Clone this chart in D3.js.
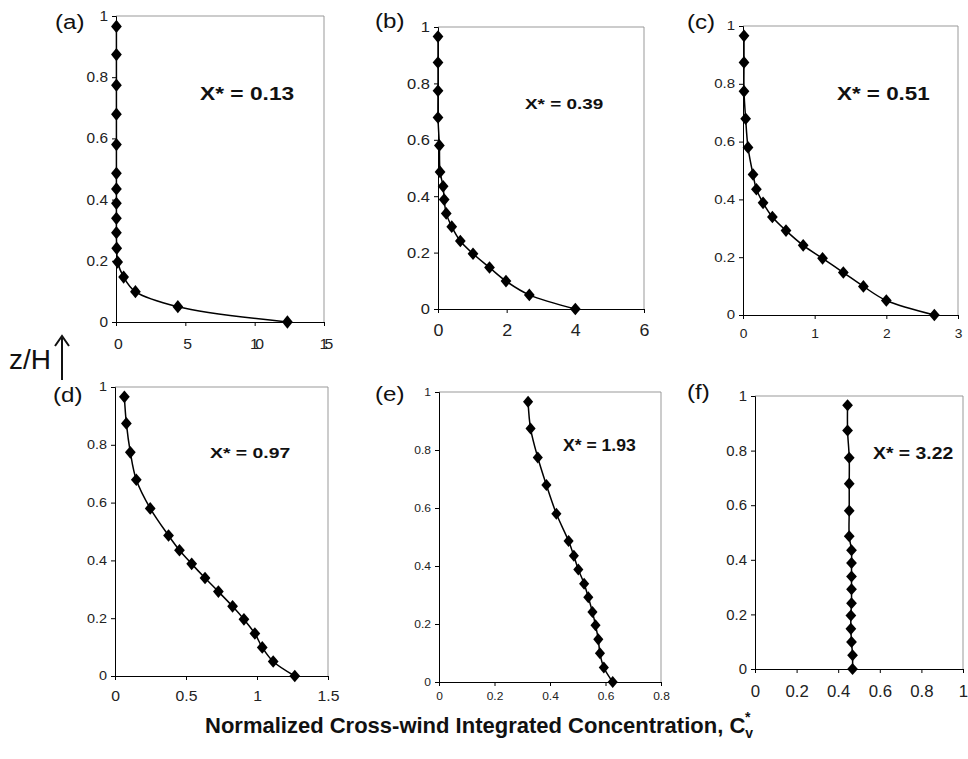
<!DOCTYPE html>
<html>
<head>
<meta charset="utf-8">
<script src="https://cdn.jsdelivr.net/npm/d3@7"></script>
<style>
  html, body { margin: 0; padding: 0; background: #fff; }
  svg { display: block; font-family: "Liberation Sans", Arial, sans-serif; }
</style>
</head>
<body>
<svg id="chart" width="968" height="759"></svg>
<script>
// heights (z/H) shared by every profile
const zLevels = [0.966, 0.874, 0.774, 0.679, 0.58, 0.486, 0.435, 0.388, 0.339, 0.292, 0.241, 0.196, 0.147, 0.099, 0.05, 0];

// normalized cross-wind integrated concentration at each height
const concA = [0.03, 0.03, 0.03, 0.03, 0.03, 0.03, 0.03, 0.03, 0.03, 0.03, 0.05, 0.12, 0.55, 1.4, 4.46, 12.36];
const concB = [0, 0, 0, 0, 0.04, 0.06, 0.15, 0.18, 0.24, 0.4, 0.65, 1.02, 1.5, 1.98, 2.66, 4.0];
const concC = [0.014, 0.014, 0.014, 0.037, 0.07, 0.14, 0.187, 0.28, 0.41, 0.6, 0.84, 1.11, 1.4, 1.68, 2.0, 2.67];
const concD = [0.066, 0.08, 0.108, 0.15, 0.248, 0.377, 0.454, 0.54, 0.634, 0.728, 0.828, 0.908, 0.985, 1.037, 1.114, 1.266];
const concE = [0.321, 0.33, 0.356, 0.387, 0.423, 0.467, 0.486, 0.502, 0.523, 0.538, 0.553, 0.564, 0.574, 0.58, 0.594, 0.626];
const concF = [0.445, 0.445, 0.453, 0.453, 0.453, 0.453, 0.464, 0.464, 0.464, 0.464, 0.464, 0.461, 0.461, 0.464, 0.469, 0.469];

// tick labels
const yTicks = [0, 0.2, 0.4, 0.6, 0.8, 1];
const xTicksA = [0, 5, 10, 15];
const xTicksB = [0, 2, 4, 6];
const xTicksC = [0, 1, 2, 3];
const xTicksD = [0, 0.5, 1, 1.5];
const xTicksE = [0, 0.2, 0.4, 0.6, 0.8];
const xTicksF = [0, 0.2, 0.4, 0.6, 0.8, 1];

const panelLetters = ["(a)", "(b)", "(c)", "(d)", "(e)", "(f)"];
const xStarLabels = ["X* = 0.13", "X* = 0.39", "X* = 0.51", "X* = 0.97", "X* = 1.93", "X* = 3.22"];
const series = [concA, concB, concC, concD, concE, concF];
const xTickSets = [xTicksA, xTicksB, xTicksC, xTicksD, xTicksE, xTicksF];

// layout of each small chart (the source figure was stretched sideways, hence sx)
// box: [left, top, right, bottom]; star: [dx, dy, size, sx]
const layout = [
  { box: [116, 16, 324, 322], yFont: 14, ySx: 1.1, xFont: 15, xSx: 1.05, xPad: 12, xSpacing: -3.5, mk: [0.85, 1.05], letter: [55, 29], star: [84, 84, 17.5, 1.3] },
  { box: [438, 27, 644, 309], yFont: 15, ySx: 1.1, xFont: 17, xSx: 1.05, xPad: 11, xSpacing: 0, mk: [0.85, 1.0], letter: [375, 28], star: [87, 82, 15.5, 1.22] },
  { box: [743, 26, 958, 315], yFont: 12, ySx: 1.25, xFont: 12, xSx: 1.15, xPad: 10, xSpacing: 0, mk: [0.85, 1.0], letter: [687, 29], star: [94, 74, 17.5, 1.28] },
  { box: [115, 387, 328, 676], yFont: 12, ySx: 1.2, xFont: 15, xSx: 1.05, xPad: 10, xSpacing: 0, mk: [0.85, 1.0], letter: [53, 402], star: [95, 71, 15.5, 1.25] },
  { box: [439, 392, 661, 682], yFont: 10.5, ySx: 1.15, xFont: 10, xSx: 1.2, xPad: 7, xSpacing: 0, mk: [0.8, 0.95], letter: [375, 401], star: [124, 59, 16, 1.1] },
  { box: [755, 396, 963, 669], yFont: 14.5, ySx: 1.03, xFont: 16, xSx: 1.05, xPad: 13, xSpacing: 0, mk: [0.85, 0.95], letter: [687, 399], star: [118, 63, 17, 1.14] }
];

const svg = d3.select("#chart");

layout.forEach((p, i) => {
  const [l, t, r, b] = p.box;
  const ticks = xTickSets[i];
  const x = d3.scaleLinear().domain([0, ticks[ticks.length - 1]]).range([l, r]);
  const y = d3.scaleLinear().domain([0, 1]).range([b, t]);
  const g = svg.append("g");

  // gray frame on top and right
  g.append("path")
    .attr("d", `M${l},${t}H${r}V${b}`)
    .attr("fill", "none")
    .attr("stroke", "#999")
    .attr("stroke-width", 1);

  const yAxis = g.append("g")
    .attr("transform", `translate(${l},0)`)
    .call(d3.axisLeft(y).tickValues(yTicks).tickSize(4).tickPadding(4).tickFormat(d => String(d)));
  yAxis.select(".domain").attr("stroke", "#000");
  yAxis.selectAll("text")
    .attr("font-size", p.yFont)
    .attr("fill", "#222")
    .attr("font-family", "Liberation Sans, Arial, sans-serif")
    .attr("x", -8 / p.ySx)
    .attr("transform", `scale(${p.ySx},1)`);

  const xAxis = g.append("g")
    .attr("transform", `translate(0,${b})`)
    .call(d3.axisBottom(x).tickValues(ticks).tickSize(4).tickPadding(p.xPad).tickFormat(d => String(d)));
  xAxis.select(".domain").attr("stroke", "#000");
  xAxis.selectAll("text")
    .attr("font-size", p.xFont)
    .attr("fill", "#222")
    .attr("letter-spacing", p.xSpacing)
    .attr("font-family", "Liberation Sans, Arial, sans-serif")
    .attr("transform", `scale(${p.xSx},1)`);

  const pts = zLevels.map((z, k) => ({ c: series[i][k], z }));

  g.append("path")
    .datum(pts)
    .attr("fill", "none")
    .attr("stroke", "#000")
    .attr("stroke-width", 1.5)
    .attr("d", d3.line().x(d => x(d.c)).y(d => y(d.z)).curve(d3.curveCatmullRom.alpha(0.5)));

  // diamond markers, a little taller than wide
  g.selectAll("path.mk")
    .data(pts)
    .join("path")
    .attr("class", "mk")
    .attr("d", d3.symbol(d3.symbolSquare, 80))
    .attr("transform", d => `translate(${x(d.c)},${y(d.z)}) scale(${p.mk[0]},${p.mk[1]}) rotate(45)`)
    .attr("fill", "#000");

  g.append("text")
    .attr("transform", `translate(${p.letter[0]},${p.letter[1]}) scale(1.15,1)`)
    .attr("font-size", 21)
    .attr("fill", "#111")
    .text(panelLetters[i]);

  g.append("text")
    .attr("transform", `translate(${l + p.star[0]},${t + p.star[1]}) scale(${p.star[3]},1)`)
    .attr("font-size", p.star[2])
    .attr("font-weight", "bold")
    .attr("fill", "#111")
    .text(xStarLabels[i]);
});

// z/H label with upward arrow
svg.append("text")
  .attr("x", 9)
  .attr("y", 369)
  .attr("font-size", 28)
  .attr("fill", "#111")
  .text("z/H");
svg.append("line")
  .attr("x1", 62).attr("x2", 62)
  .attr("y1", 380).attr("y2", 338)
  .attr("stroke", "#111").attr("stroke-width", 2);
svg.append("path")
  .attr("d", "M55,346 L62,336 L69,346")
  .attr("fill", "none")
  .attr("stroke", "#111").attr("stroke-width", 2);

// shared x title
const title = svg.append("text")
  .attr("x", 205)
  .attr("y", 733)
  .attr("font-size", 22)
  .attr("font-weight", "bold")
  .attr("fill", "#111");
title.append("tspan").text("Normalized Cross-wind Integrated Concentration, C");
title.append("tspan").attr("font-size", 14).attr("dy", 5).text("v");
title.append("tspan").attr("font-size", 14).attr("dx", -8).attr("dy", -16).text("*");
</script>
</body>
</html>
